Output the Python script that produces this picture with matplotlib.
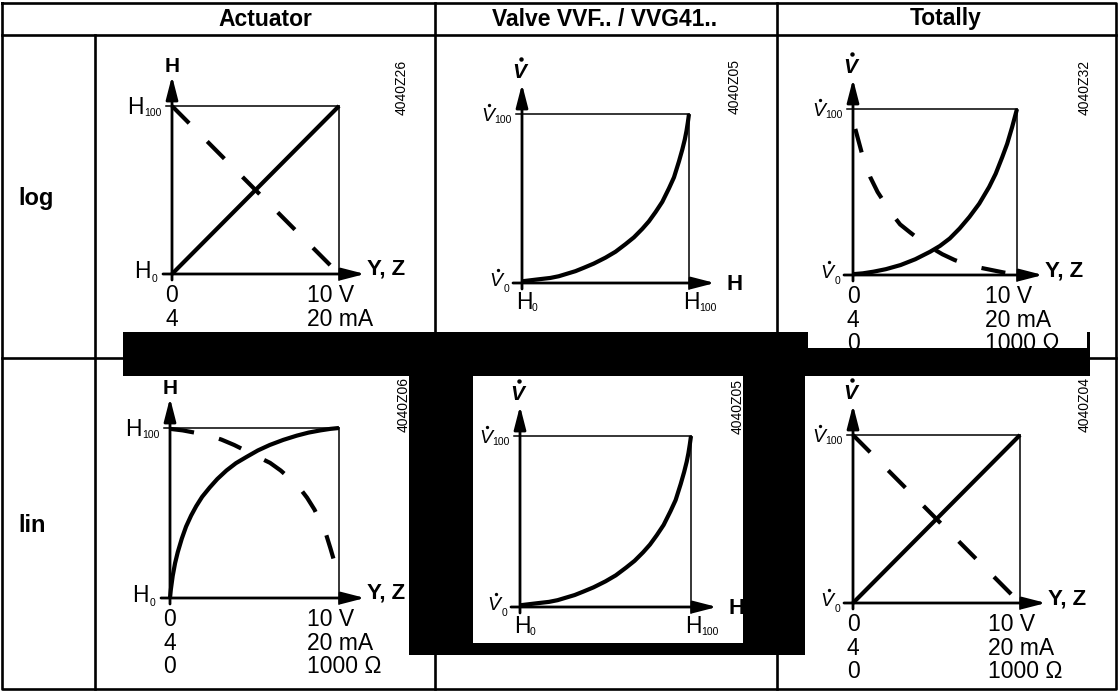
import matplotlib
matplotlib.use('Agg')
import matplotlib.pyplot as plt
from matplotlib.patches import Rectangle

plt.rcParams['font.family'] = ['Liberation Sans', 'DejaVu Sans']
plt.rcParams['lines.scale_dashes'] = False

W, H = 1118, 692

# ---- data ----
col_titles = ['Actuator', 'Valve VVF.. / VVG41..', 'Totally']
row_titles = ['log', 'lin']
codes = [['4040Z26', '4040Z05', '4040Z32'],
         ['4040Z06', '4040Z05', '4040Z04']]
signal_left = ['0', '4', '0']
signal_right = ['10 V', '20 mA', '1000 Ω']

# actuator, log: stroke H [%] over signal Y [V]
act_log_y = [0, 10]
act_log_h = [0, 100]
act_log_h_inv = [100, 0]

# valve (same in both rows): flow V [%] over stroke H [%]
valve_h = [0, 5, 10, 17, 22, 27, 32, 37, 43, 50, 56, 62, 67, 72, 76, 80, 84, 88,
           91, 94, 96, 97.5, 98.5, 99.3, 100]
valve_v = [1, 1.6, 2.2, 3, 4, 5.5, 7, 9, 11.5, 15, 18.5, 23, 27, 32, 36.5, 42, 48, 56,
           62.5, 72, 79, 85, 90, 95, 100]

# totally, log: flow V [%] over signal Y [V]
tot_log_y = [0, 0.6, 1.25, 2, 2.9, 3.8, 4.7, 5.3, 5.9, 6.5, 7.1, 7.7, 8.3, 8.7, 9.1,
             9.4, 9.7, 9.85, 10]
tot_log_v = [0.5, 1, 2, 3.5, 6, 9.5, 14, 17.5, 22, 28, 35, 43, 53, 61, 71, 79, 89,
             94.5, 100]
tot_log_y_inv = [0.14, 0.55, 1.05, 1.5, 1.86, 2.4, 2.87, 3.5, 4.1, 4.8, 5.45, 6.2,
                 6.9, 7.7, 8.45, 9.2, 10]
tot_log_v_inv = [88, 73, 59, 50, 44.5, 36.5, 30.5, 25.5, 21, 16.3, 12.5, 9, 6.5, 4.5,
                 3, 1.5, 0.3]

# actuator, lin
act_lin_y = [0, 0.05, 0.16, 0.3, 0.46, 0.7, 0.95, 1.25, 1.55, 1.9, 2.35, 2.8, 3.34,
             3.9, 4.53, 5.2, 5.9, 6.7, 7.5, 8.2, 8.9, 9.5, 10]
act_lin_h = [0, 5, 13, 20.5, 27, 35, 42, 48.5, 54, 59.5, 65, 70, 75, 79.3, 83, 86.8,
             90, 93, 95.5, 97.3, 98.6, 99.5, 100]
act_lin_y_inv = [0, 0.75, 1.45, 2.3, 3.04, 3.8, 4.53, 5.2, 5.92, 6.55, 7.12, 7.65,
                 8.11, 8.55, 8.91, 9.25, 9.5, 9.72, 9.9]
act_lin_h_inv = [99.5, 98.6, 97.3, 95.5, 93.2, 90, 86.4, 83, 79.5, 75, 70, 65, 59, 52,
                 44.5, 37, 29, 21.5, 14]

# totally, lin
tot_lin_y = [0, 10]
tot_lin_v = [0, 100]
tot_lin_v_inv = [100, 0]

# ---- layout (pixels): x0, x1, ytop, ybottom of each diagram square ----
charts = [
    dict(box=(172, 339, 106, 274), code=(402, 87), kind='act', xmax=10,
         solid=(act_log_y, act_log_h), dashed=(act_log_y, act_log_h_inv)),
    dict(box=(522, 689, 114, 283), code=(735, 87), kind='valve', xmax=100,
         solid=(valve_h, valve_v), dashed=None),
    dict(box=(853, 1017, 109, 275), code=(1085, 87), kind='tot', xmax=10,
         solid=(tot_log_y, tot_log_v), dashed=(tot_log_y_inv, tot_log_v_inv)),
    dict(box=(170, 339, 428, 598), code=(404, 405), kind='act', xmax=10,
         solid=(act_lin_y, act_lin_h), dashed=(act_lin_y_inv, act_lin_h_inv)),
    dict(box=(520, 691, 436, 607), code=(738, 407), kind='valve', xmax=100,
         solid=(valve_h, valve_v), dashed=None),
    dict(box=(853, 1020, 435, 603), code=(1085, 404), kind='tot', xmax=10,
         solid=(tot_lin_y, tot_lin_v), dashed=(tot_lin_y, tot_lin_v_inv)),
]

fig = plt.figure(figsize=(W / 100, H / 100), dpi=100)
base = fig.add_axes([0, 0, 1, 1], zorder=0)
base.set_xlim(0, W)
base.set_ylim(H, 0)
base.axis('off')

K = 'black'
tlw = 1.9
# table grid
base.plot([2, 1116, 1116, 2, 2], [2.5, 2.5, 689, 689, 2.5], color=K, lw=tlw)
base.plot([2, 1116], [35, 35], color=K, lw=tlw)
base.plot([2, 1116], [358, 358], color=K, lw=tlw)
base.plot([95, 95], [35, 689], color=K, lw=tlw)
base.plot([435, 435], [2.5, 689], color=K, lw=tlw)
base.plot([777, 777], [2.5, 689], color=K, lw=tlw)

for cx, t in zip([265, 605, 946], col_titles):
    base.text(cx, 19, t, ha='center', va='center', fontsize=16.5, fontweight='bold')
for cy, t in zip([205, 532], row_titles):
    base.text(18, cy, t, ha='left', va='baseline', fontsize=17, fontweight='bold')

FS = 16.5


def sym_label(xr, yb, main, sub, size, sub_dy, dot=False):
    # main symbol followed by a small subscript, right edge at xr
    sw = 5.8 * len(sub)
    base.text(xr, yb + sub_dy, sub, ha='right', va='baseline', fontsize=7.5)
    xm = xr - sw - 0.5
    base.text(xm, yb, main, ha='right', va='baseline', fontsize=size,
              fontstyle='italic' if dot else 'normal')
    if dot:  # flow-rate dot over the V
        base.plot(xm - 5, yb - 16.5, 'o', color=K, ms=2.4, mew=0)


def sym_label_left(xl, yb, main, sub, size, sub_dy):
    base.text(xl, yb, main, ha='left', va='baseline', fontsize=size)
    base.text(xl + 16, yb + sub_dy, sub, ha='left', va='baseline', fontsize=7.5)


arrow = dict(arrowstyle='-|>,head_length=1.4,head_width=0.36', mutation_scale=10,
             lw=2.0, color=K, shrinkA=0, shrinkB=0)

for r in range(2):
    for c in range(3):
        ch = charts[r * 3 + c]
        x0, x1, yt, yb = ch['box']
        # frame
        base.plot([x0 - 6, x1], [yt, yt], color=K, lw=1.1)
        base.plot([x1, x1], [yt, yb + 6], color=K, lw=1.1)
        base.annotate('', xy=(x0, yt - 30), xytext=(x0, yb + 6), arrowprops=arrow)
        base.annotate('', xy=(x1 + 26, yb), xytext=(x0 - 9, yb), arrowprops=arrow)

        if ch['kind'] == 'act':
            base.text(x0, yt - 34, 'H', ha='center', va='baseline', fontsize=15,
                      fontweight='bold')
            sym_label(x0 - 10, yt + 7.5, 'H', '100', FS, 2.5)
            sym_label(x0 - 15, yb + 4.5, 'H', '0', FS, 4)
        else:
            base.text(x0 - 3, yt - 36, 'V', ha='center', va='baseline', fontsize=15,
                      fontweight='bold', fontstyle='italic')
            base.plot(x0 - 1, yt - 55, 'o', color=K, ms=3.2, mew=0)
            sym_label(x0 - 10, yt + 7, 'V', '100', 14, 2, dot=True)
            sym_label(x0 - 13, yb + 3.5, 'V', '0', 14, 5, dot=True)

        if ch['kind'] == 'valve':
            base.text(x1 + 38, yb + 7, 'H', ha='left', va='baseline', fontsize=16,
                      fontweight='bold')
            sym_label_left(x0 - 6, yb + 26, 'H', '0', FS, 2)
            sym_label_left(x1 - 6, yb + 26, 'H', '100', FS, 2)
        else:
            base.text(x1 + 28, yb + 1, 'Y, Z', ha='left', va='baseline', fontsize=16,
                      fontweight='bold')
            for i, dy in enumerate([28, 52, 75]):
                base.text(x0, yb + dy, signal_left[i], ha='center', va='baseline',
                          fontsize=FS)
                base.text(x1 - 32, yb + dy, signal_right[i], ha='left', va='baseline',
                          fontsize=FS)

        base.text(ch['code'][0], ch['code'][1], codes[r][c], rotation=90, ha='center',
                  va='center', fontsize=10)

        ax = fig.add_axes([x0 / W, 1 - yb / H, (x1 - x0) / W, (yb - yt) / H], zorder=1)
        ax.set_xlim(0, ch['xmax'])
        ax.set_ylim(0, 100)
        ax.axis('off')
        ax.plot(*ch['solid'], color=K, lw=3.0, clip_on=False, solid_capstyle='butt',
                solid_joinstyle='round')
        if ch['dashed'] is not None:
            ax.plot(*ch['dashed'], color=K, lw=3.0, clip_on=False, dashes=(17.5, 18.5))

# black redaction marks lying over the scan
top = fig.add_axes([0, 0, 1, 1], zorder=5)
top.set_xlim(0, W)
top.set_ylim(H, 0)
top.axis('off')
for (rx, ry, rw, rh) in [(123, 332, 685, 44), (808, 348, 282, 28), (409, 376, 64, 279),
                         (743, 376, 62, 279), (409, 643, 396, 12), (1087, 332, 2.5, 16)]:
    top.add_patch(Rectangle((rx, ry), rw, rh, color=K, lw=0))

fig.savefig('out.png', dpi=100)
